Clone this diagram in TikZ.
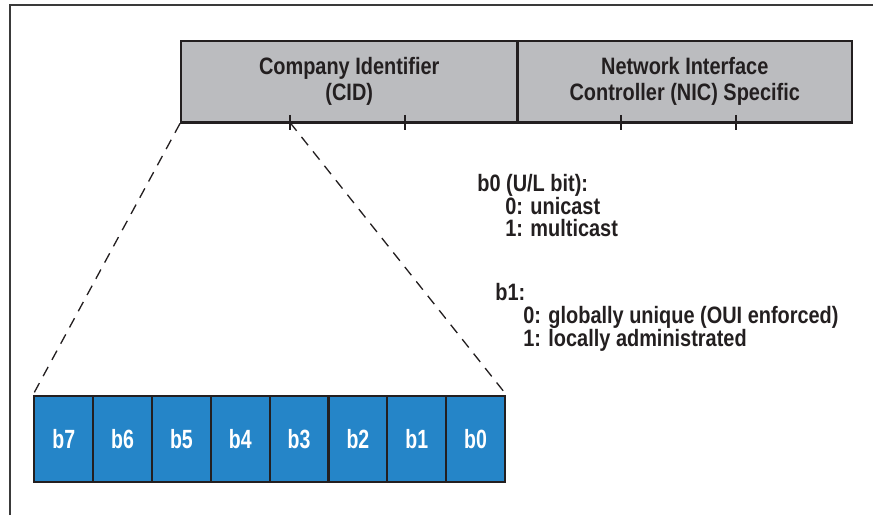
\documentclass[tikz,border=0pt]{standalone}
\usepackage{fontspec}
\usepackage{tikz}
\usetikzlibrary{positioning}
\usepackage{xcolor}
\newfontfamily\labelfont[FakeStretch=0.84]{Liberation Sans}
\newfontfamily\bitfont[FakeStretch=0.74]{Liberation Sans}
\definecolor{ink}{HTML}{231F20}
\definecolor{field}{HTML}{BBBCBF}
\definecolor{bitblue}{HTML}{2585C8}
\definecolor{frame}{HTML}{3A3A3A}

\tikzset{
  fieldbox/.style={draw=ink, line width=1.15pt, fill=field, inner sep=0pt,
    minimum height=1.63cm, align=center, text=ink,
    font=\labelfont\bfseries\fontsize{13.5}{14.8}\selectfont},
  bitcell/.style={draw=ink, line width=1.3pt, fill=bitblue, inner sep=0pt,
    minimum width=1.1768cm, minimum height=1.72cm, text=white,
    font=\bitfont\bfseries\fontsize{15}{16}\selectfont},
  bitnote/.style={anchor=base west, inner sep=0pt, text=ink,
    font=\labelfont\bfseries\fontsize{13.5}{14}\selectfont},
  zoomline/.style={ink, line width=0.75pt, dash pattern=on 6pt off 4.5pt},
}

\begin{document}
\begin{tikzpicture}[scale=1.0]
  \useasboundingbox (0,0) rectangle (17.46,10.3);

  % Frame
  \draw[frame, line width=0.75pt] (0.2,0) -- (0.2,10.2) -- (17.46,10.2);

  % Address fields
  \node[fieldbox, minimum width=6.73cm] (cid) at (6.985,8.665) {Company Identifier\\(CID)};
  \node[fieldbox, minimum width=6.69cm] (nic) at (13.695,8.665) {Network Interface\\Controller (NIC) Specific};

  % Byte ticks
  \foreach \x in {5.80,8.10,12.42,14.72}
    \draw[ink, line width=1.15pt] (\x,8.0) -- (\x,7.7);
  \coordinate (cidtick) at (5.80,7.85);

  % First octet bits
  \foreach \i in {0,...,7}
    \node[bitcell] (b\i) at ({0.686+(7.5-\i)*1.1768},1.526) {b\i};

  % Zoom lines
  \draw[zoomline] (cid.south west) -- (b7.north west);
  \draw[zoomline] (cidtick) -- (b0.north east);

  % Bit meanings
  \node[bitnote] (ulbit) at (9.54,6.47) {b0 (U/L bit):};
  \node[bitnote] (ulzero) at (10.10,6.01) {0: unicast};
  \node[bitnote] (ulone) at (10.10,5.56) {1: multicast};

  \node[bitnote] (lgbit) at (9.90,4.29) {b1:};
  \node[bitnote] (lgzero) at (10.46,3.83) {0: globally unique (OUI enforced)};
  \node[bitnote] (lgone) at (10.46,3.38) {1: locally administrated};
\end{tikzpicture}
\end{document}
